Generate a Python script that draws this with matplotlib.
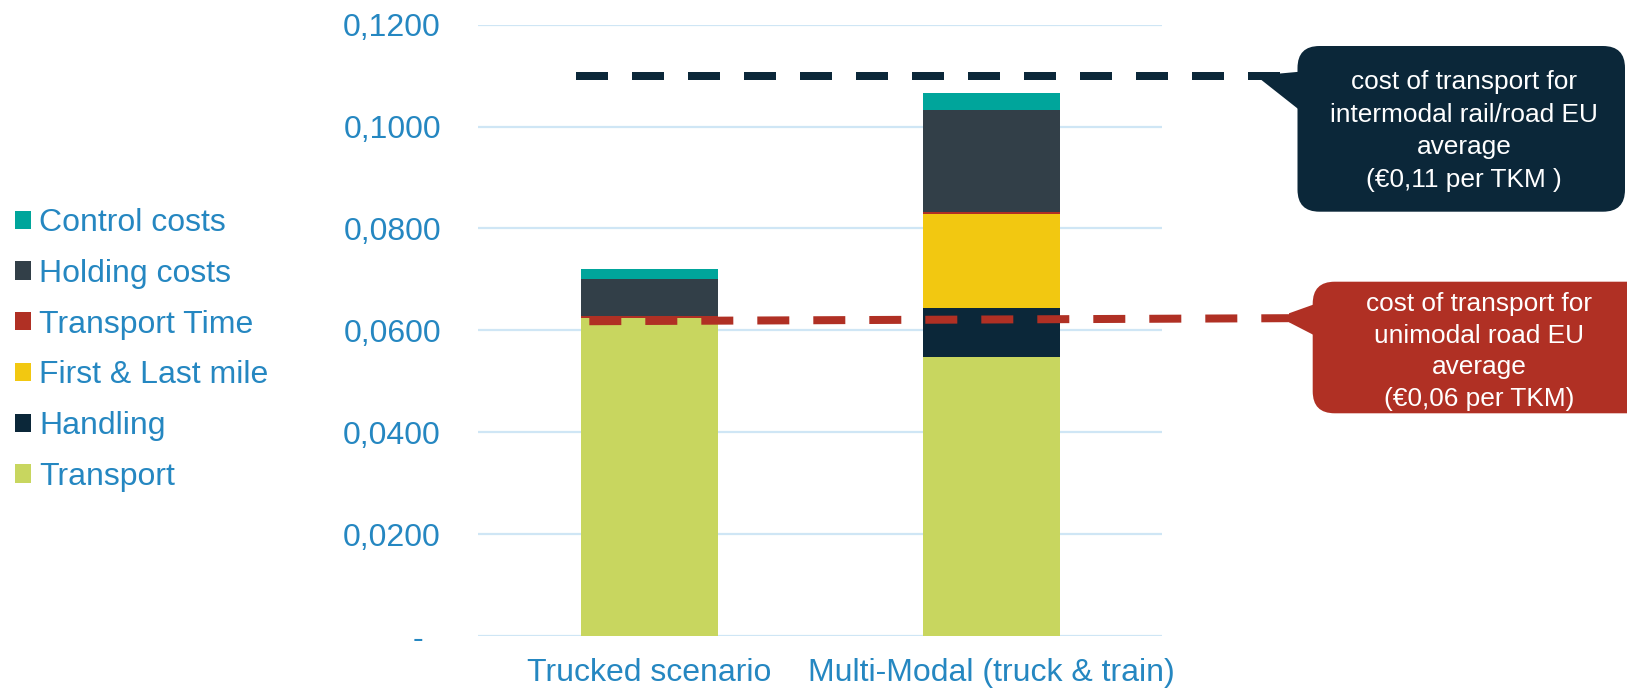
import numpy as np
import matplotlib
matplotlib.use("Agg")
import matplotlib.pyplot as plt
from matplotlib.patches import FancyBboxPatch, Polygon, Patch
from matplotlib.ticker import FixedLocator, FuncFormatter

plt.rcParams['font.family'] = ['Liberation Sans', 'DejaVu Sans']

# --- data -------------------------------------------------------------
categories = ["Trucked scenario", "Multi-Modal (truck & train)"]
series_names = ["Transport", "Handling", "First & Last mile",
                "Transport Time", "Holding costs", "Control costs"]
transport = [0.0625, 0.0548]
handling = [0.0000, 0.0095]
first_last_mile = [0.0000, 0.0186]
transport_time = [0.0003, 0.0003]
holding_costs = [0.0073, 0.0201]
control_costs = [0.0020, 0.0033]
y_ticks = [0.00, 0.02, 0.04, 0.06, 0.08, 0.10, 0.12]
intermodal_avg = [0.11, 0.11]      # EU average, intermodal rail/road
road_avg = [0.0618, 0.0624]        # EU average, unimodal road

# --- style ------------------------------------------------------------
BLUE = "#2587C1"
GRID = "#CFE6F5"
NAVY = "#0B2739"
RED = "#B03024"
colors = ["#C8D65F", NAVY, "#F2C811", RED, "#323F48", "#00A59B"]

W, H = 1627, 690
fig = plt.figure(figsize=(W / 100, H / 100), dpi=100)
ax = fig.add_axes([478.5 / W, 1 - 636.2 / H, 684 / W, 611.6 / H])

x = np.arange(len(categories))
series = [transport, handling, first_last_mile, transport_time,
          holding_costs, control_costs]
bottom = np.zeros(len(categories))
for name, vals, col in zip(series_names, series, colors):
    ax.bar(x, vals, 0.4, bottom=bottom, color=col, label=name, zorder=2,
           linewidth=0)
    bottom += np.array(vals)

ax.set_xlim(-0.5, 1.5)
ax.set_ylim(0, 0.12)
ax.yaxis.set_major_locator(FixedLocator(y_ticks))
ax.yaxis.set_major_formatter(FuncFormatter(
    lambda v, p: "-  " if abs(v) < 1e-9 else f"{v:.4f}".replace(".", ",")))
ax.yaxis.grid(True, color=GRID, lw=1.6, zorder=0)
ax.set_axisbelow(True)
for s in ax.spines.values():
    s.set_visible(False)
ax.set_xticks(x)
ax.set_xticklabels(categories)
ax.tick_params(axis='y', length=0, pad=27, labelsize=23, labelcolor=BLUE)
ax.tick_params(axis='x', length=0, pad=16, labelsize=23, labelcolor=BLUE)

# average reference lines (dashed)
ax.plot([-0.2146, 1.8436], intermodal_avg, color=NAVY, lw=5.76,
        dashes=(4, 3), dash_capstyle='butt', clip_on=False, zorder=4)
ax.plot([-0.176, 1.878], road_avg, color=RED, lw=5.76,
        dashes=(4, 3), dash_capstyle='butt', clip_on=False, zorder=4)

# legend (top entry = top of stack)
handles = [Patch(facecolor=c, edgecolor='none') for c in colors]
fig.legend(handles[::-1], series_names[::-1], loc='center left',
           bbox_to_anchor=(15 / W, 1 - 350 / H), frameon=False, fontsize=23,
           handlelength=0.5, handleheight=0.5, handletextpad=0.26,
           labelspacing=0.65, borderpad=0, borderaxespad=0, labelcolor=BLUE)

# callouts, drawn on a pixel-scaled overlay
ov = fig.add_axes([0, 0, 1, 1])
ov.set_xlim(0, W)
ov.set_ylim(H, 0)
ov.axis('off')

ov.add_patch(FancyBboxPatch((1297.5, 46), 1625 - 1297.5, 211.7 - 46,
                            boxstyle="round,pad=0,rounding_size=22",
                            facecolor=NAVY, edgecolor='none'))
ov.add_patch(Polygon([(1258, 77.3), (1280, 73.5), (1302, 71.5), (1302, 112)],
                     closed=True, facecolor=NAVY, edgecolor='none'))
ov.text(1464, 131, "cost of transport for\nintermodal rail/road EU\naverage\n(€0,11 per TKM )",
        ha='center', va='center', color='white', fontsize=18.9, linespacing=1.46)

ov.add_patch(FancyBboxPatch((1312.7, 281.7), 1660 - 1312.7, 413.3 - 281.7,
                            boxstyle="round,pad=0,rounding_size=22",
                            facecolor=RED, edgecolor='none'))
ov.add_patch(Polygon([(1289, 313.3), (1317, 303.3), (1317, 336.7), (1289, 322.3)],
                     closed=True, facecolor=RED, edgecolor='none'))
ov.text(1479.5, 351.5, "cost of transport for\nunimodal road EU\naverage\n(€0,06 per TKM)",
        ha='center', va='center', color='white', fontsize=18.9, linespacing=1.42)

fig.savefig("out.png", dpi=100)
